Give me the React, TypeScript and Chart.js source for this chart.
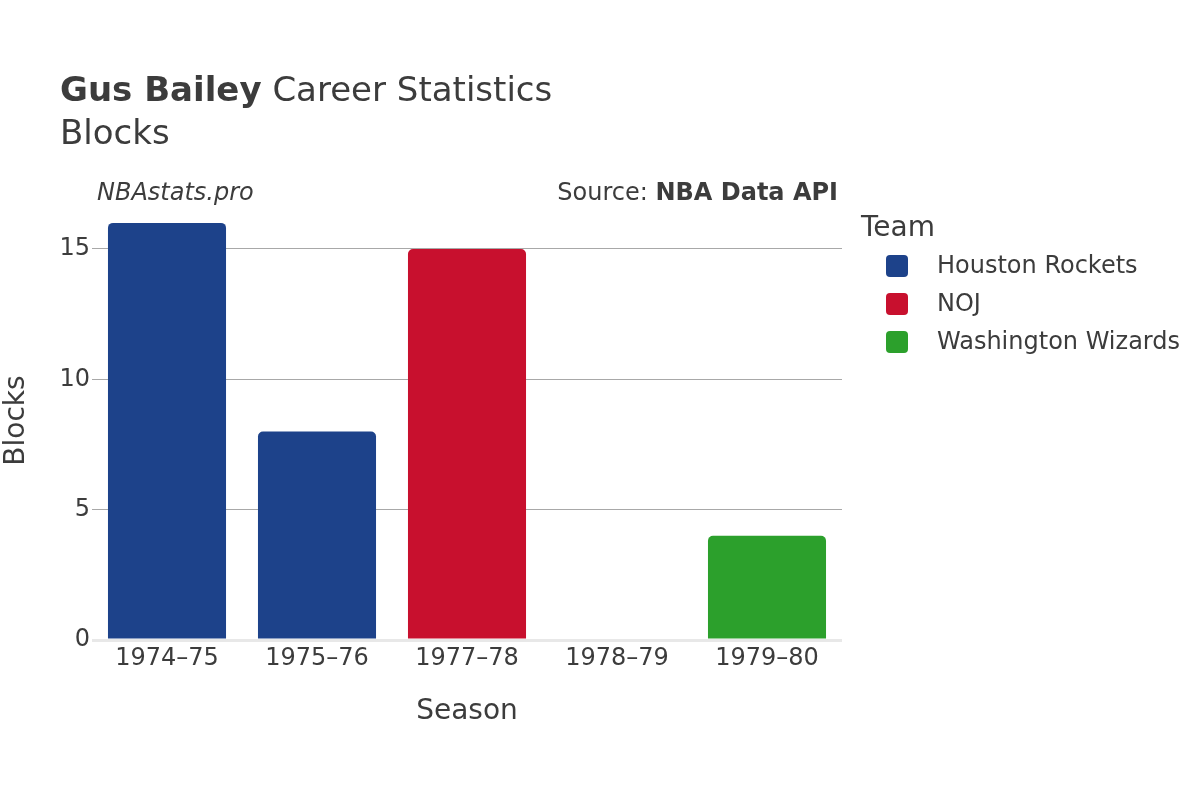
import React, { useEffect, useRef } from "react";
import { Chart, registerables } from "chart.js";

Chart.register(...registerables);

const seasons = ["1974–75", "1975–76", "1977–78", "1978–79", "1979–80"];
const teams = ["Houston Rockets", "NOJ", "Washington Wizards"];
const teamColors = ["#1d428a", "#c8102e", "#2ca02c"];
const houstonBlocks = [16, 8, null, null, null];
const nojBlocks = [null, null, 15, null, null];
const washingtonBlocks = [null, null, null, 0, 4];
const yTicks = [0, 5, 10, 15];
const yMax = 16.84;

const FONT = "'DejaVu Sans', sans-serif";
const TEXT = "#3c3c3c";

const overlayPlugin = {
  id: "overlay",
  afterDraw(chart: any) {
    const ctx = chart.ctx;
    const area = chart.chartArea;
    ctx.save();
    ctx.fillStyle = TEXT;
    ctx.textBaseline = "alphabetic";
    // Title
    ctx.textAlign = "left";
    ctx.font = `bold 34px ${FONT}`;
    const bold = "Gus Bailey";
    ctx.fillText(bold, 60, 101);
    const bw = ctx.measureText(bold).width;
    ctx.font = `34px ${FONT}`;
    ctx.fillText(" Career Statistics", 60 + bw, 101);
    ctx.fillText("Blocks", 60, 144);
    // Annotations
    ctx.font = `italic 24px ${FONT}`;
    ctx.fillText("NBAstats.pro", 97, 200);
    ctx.textAlign = "right";
    ctx.font = `bold 24px ${FONT}`;
    const src = "NBA Data API";
    ctx.fillText(src, 838, 200);
    const sw = ctx.measureText(src).width;
    ctx.font = `24px ${FONT}`;
    ctx.fillText("Source: ", 838 - sw, 200);
    // Axis titles
    ctx.textAlign = "center";
    ctx.textBaseline = "middle";
    ctx.font = `28px ${FONT}`;
    ctx.fillText("Season", (area.left + area.right) / 2, 712);
    ctx.save();
    ctx.translate(17, (area.top + area.bottom) / 2);
    ctx.rotate(-Math.PI / 2);
    ctx.fillText("Blocks", 0, 0);
    ctx.restore();
    // Legend
    ctx.textAlign = "left";
    ctx.textBaseline = "alphabetic";
    ctx.font = `28px ${FONT}`;
    ctx.fillText("Team", 861, 236);
    ctx.font = `24px ${FONT}`;
    ctx.textBaseline = "middle";
    teams.forEach((t, i) => {
      const cy = 266 + i * 38;
      ctx.fillStyle = teamColors[i];
      ctx.beginPath();
      (ctx as any).roundRect(886, cy - 11, 22, 22, 4);
      ctx.fill();
      ctx.fillStyle = TEXT;
      ctx.fillText(t, 937, cy + 1);
    });
    ctx.restore();
  },
};

export default function App() {
  const ref = useRef<HTMLCanvasElement | null>(null);
  useEffect(() => {
    if (!ref.current) return;
    const mk = (label: string, data: (number | null)[], color: string) => ({
      label,
      data,
      backgroundColor: color,
      borderWidth: 0,
      borderRadius: { topLeft: 5, topRight: 5, bottomLeft: 0, bottomRight: 0 },
      borderSkipped: "bottom",
      barPercentage: 0.787,
      categoryPercentage: 1,
    });
    const chart = new Chart(ref.current, {
      type: "bar",
      data: {
        labels: seasons,
        datasets: [
          mk(teams[0], houstonBlocks, teamColors[0]),
          mk(teams[1], nojBlocks, teamColors[1]),
          mk(teams[2], washingtonBlocks, teamColors[2]),
        ] as any,
      },
      options: {
        animation: false,
        responsive: false,
        devicePixelRatio: 1,
        layout: { padding: { left: 0, top: 201, right: 358, bottom: 0 } },
        plugins: { legend: { display: false }, title: { display: false }, tooltip: { enabled: false } },
        scales: {
          x: {
            stacked: true,
            grid: { display: false, drawTicks: false },
            border: { display: false },
            ticks: { font: { family: FONT, size: 24 }, color: TEXT, padding: 4, maxRotation: 0 },
            afterFit: (s: any) => { s.height = 160; },
          },
          y: {
            stacked: true,
            min: 0,
            max: yMax,
            afterBuildTicks: (s: any) => { s.ticks = yTicks.map((v) => ({ value: v })); },
            grid: {
              drawTicks: false,
              color: (c: any) => (c.tick && c.tick.value === 0 ? "#e8e8e8" : "#a8a8a8"),
              lineWidth: (c: any) => (c.tick && c.tick.value === 0 ? 3 : 1),
            },
            border: { display: false },
            ticks: { font: { family: FONT, size: 24 }, color: TEXT, padding: 2 },
            afterFit: (s: any) => { s.width = 92; },
          },
        },
      },
      plugins: [overlayPlugin],
    });
    return () => chart.destroy();
  }, []);
  return (
    <div style={{ position: "absolute", left: 0, top: 0, width: 1200, height: 800, background: "#fff" }}>
      <canvas ref={ref} width={1200} height={800} style={{ width: 1200, height: 800 }} />
    </div>
  );
}
